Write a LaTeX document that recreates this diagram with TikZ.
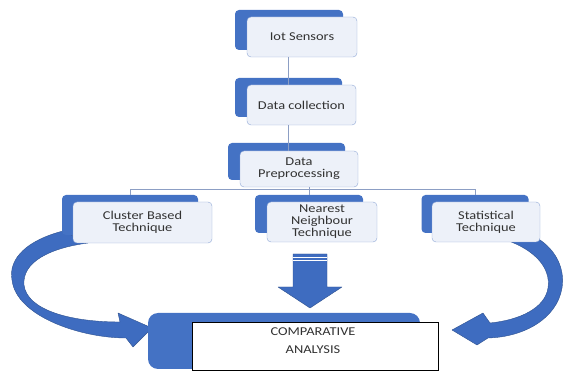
\documentclass[tikz,border=0pt]{standalone}
\usepackage{fontspec}
\setmainfont{Carlito}[FakeStretch=1.2]
\usepackage{tikz}
\definecolor{boxblue}{RGB}{68,114,196}
\definecolor{arrblue}{RGB}{62,108,192}
\definecolor{arredge}{RGB}{47,82,143}
\definecolor{palefill}{RGB}{237,241,249}
\definecolor{paleedge}{RGB}{143,168,214}
\definecolor{linkgray}{RGB}{140,158,196}
\definecolor{txt}{RGB}{50,50,50}

\begin{document}
\begin{tikzpicture}[x=1pt, y=-1pt,
    back/.style={fill=boxblue, rounded corners=4pt, inner sep=0pt},
    front/.style={draw=paleedge, fill=palefill, rounded corners=4pt, inner sep=0pt, align=center,
      text=txt, font=\fontsize{12}{12}\selectfont},
    link/.style={draw=linkgray, line width=0.8pt},
    blk/.style={fill=arrblue, draw=arredge, line width=0.4pt, line join=round}]
    \useasboundingbox (0,0) rectangle (563,371);

    \filldraw[blk] (63,231) .. controls (28,240) and (8,258) .. (12,280)
      .. controls (16,316) and (80,338) .. (126,338) -- (133,347) -- (152,328) -- (118,313) -- (120,322)
      .. controls (70,322) and (27,310) .. (24,285) .. controls (22,262) and (50,248) .. (88,243) -- cycle;
    \filldraw[blk] (537,238) .. controls (557,250) and (565,270) .. (562,288)
      .. controls (557,318) and (525,337) .. (488,338) -- (477,345) -- (452,330) -- (483,313) -- (490,323)
      .. controls (520,320) and (545,308) .. (548,288) .. controls (551,268) and (535,250) .. (506,240) -- cycle;
    \filldraw[blk] (293,254) -- (327,254) -- (327,287) -- (342,287) -- (310,308) -- (278,287) -- (293,287) -- cycle;
    \draw[white, line width=0.8pt] (293,257.5) -- (327,257.5) (293,260.5) -- (327,260.5);

    \node[back, minimum width=108pt, minimum height=40pt] (iotB) at (289,30) {};
    \node[front, minimum width=110pt, minimum height=40pt] (iotF) at (302,37) {Iot Sensors};
    \node[back, minimum width=107pt, minimum height=39pt] (colB) at (288.5,97.5) {};
    \node[front, minimum width=109pt, minimum height=40pt] (colF) at (301.5,105) {Data collection};
    \node[back, minimum width=117pt, minimum height=37pt] (preB) at (286.5,161.5) {};
    \node[front, minimum width=118pt, minimum height=36pt] (preF) at (299,169) {Data\\Preprocessing};

    \node[back, minimum width=136pt, minimum height=40pt] (clB) at (130,215) {};
    \node[front, minimum width=139pt, minimum height=41pt] (clF) at (142.5,222.5) {Cluster Based\\Technique};
    \node[back, minimum width=108pt, minimum height=38pt] (nnB) at (309,214) {};
    \node[front, minimum width=110pt, minimum height=40pt] (nnF) at (322,222) {Nearest\\Neighbour\\Technique};
    \node[back, minimum width=107pt, minimum height=38pt] (stB) at (475,214) {};
    \node[front, minimum width=108pt, minimum height=40pt] (stF) at (486,222) {Statistical\\Technique};

    \node[back, rounded corners=10pt, minimum width=272pt, minimum height=56pt] (cmpB) at (284,341) {};
    \node[draw=black, fill=white, inner sep=0pt, minimum width=246pt, minimum height=48pt] (cmpF) at (315,346) {};
    \node[align=center, text=txt, font=\fontsize{12}{12}\selectfont] (cmpT) at (313,341) {COMPARATIVE\\[6pt]ANALYSIS};

    \draw[link] (iotF.south -| 288,0) -- (colF.north -| 288,0);
    \draw[link] (colF.south -| 288,0) -- (preF.north -| 288,0);
    \draw[link] (clB.north) -- (clB.north |- 0,189) -| (stB.north);
    \draw[link] (nnB.north) -- (nnB.north |- preF.south);
\end{tikzpicture}
\end{document}
